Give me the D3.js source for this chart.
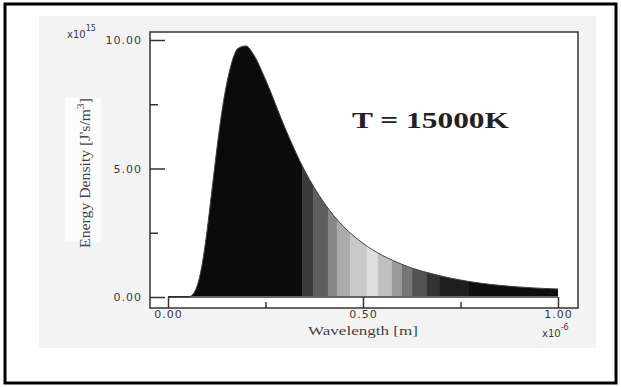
<!DOCTYPE html>
<html>
<head>
<meta charset="utf-8">
<style>
body { margin: 0; background: #fff; }
svg { display: block; }
.tick text { font-family: "DejaVu Sans", Verdana, sans-serif; font-size: 11px; fill: #3a3a3a; letter-spacing: 1px; }
.tick line { stroke: #333; stroke-width: 1.5; }
</style>
</head>
<body>
<svg id="chart" width="621" height="387"></svg>
<script src="https://cdn.jsdelivr.net/npm/d3@7/dist/d3.min.js"></script>
<script>
// values (wavelength in 1e-6 m, energy in 1e15)
var wavelengths = [0, 0.05, 0.06, 0.07, 0.08, 0.09, 0.10, 0.11, 0.12, 0.13, 0.14, 0.15, 0.16, 0.18, 0.20, 0.22, 0.25, 0.30, 0.35, 0.40, 0.45, 0.50, 0.60, 0.70, 0.80, 0.90, 1.00];
var energies    = [0, 0, 0.05, 0.25, 0.71, 1.49, 2.56, 3.82, 5.10, 6.32, 7.39, 8.26, 8.93, 9.68, 9.77, 9.42, 8.46, 6.58, 4.93, 3.67, 2.74, 2.09, 1.27, 0.82, 0.54, 0.39, 0.31];

// grey bands under the curve (start wavelength, grey)
var bandStarts = [0, 0.344, 0.372, 0.41, 0.433, 0.467, 0.51, 0.538, 0.574, 0.60, 0.626, 0.664, 0.697, 0.77];
var bandGreys  = ["#0b0b0b", "#3a3a3a", "#5e5e5e", "#868686", "#acacac", "#c9c9c9", "#dedede", "#c0c0c0", "#9a9a9a", "#767676", "#525252", "#333333", "#1e1e1e", "#0e0e0e"];

var xMajor = [0, 0.5, 1];
var xMinor = [0.25, 0.75];
var yMajor = [0, 5, 10];
var yMinor = [2.5, 7.5];

var svg = d3.select("#chart");

var x = d3.scaleLinear().domain([0, 1]).range([168, 558]);
var y = d3.scaleLinear().domain([0, 10]).range([297, 40]);

// outer border and grey panel
svg.append("rect").attr("x", 5).attr("y", 4).attr("width", 611).attr("height", 379)
	.attr("fill", "#fff").attr("stroke", "#000").attr("stroke-width", 3);
svg.append("rect").attr("x", 39).attr("y", 16).attr("width", 557).attr("height", 332)
	.attr("fill", "#f3f3f3");
svg.append("rect").attr("x", 65).attr("y", 98).attr("width", 36).attr("height", 144)
	.attr("fill", "#fcfcfc");

// plot frame
svg.append("rect").attr("x", 150).attr("y", 32).attr("width", 428).attr("height", 276)
	.attr("fill", "#fff").attr("stroke", "#333").attr("stroke-width", 1.5);

var data = wavelengths.map(function(w, i) { return {w: w, e: energies[i]}; });

var area = d3.area()
	.x(function(d) { return x(d.w); })
	.y0(y(0) - 1)
	.y1(function(d) { return y(d.e); })
	.curve(d3.curveMonotoneX);

svg.append("clipPath").attr("id", "under")
	.append("path").attr("d", area(data));

var bands = bandStarts.map(function(s, i) {
	return {start: s, end: i + 1 < bandStarts.length ? bandStarts[i + 1] : 1, grey: bandGreys[i]};
});

svg.append("g").attr("clip-path", "url(#under)")
	.selectAll("rect").data(bands).enter().append("rect")
	.attr("x", function(d) { return x(d.start); })
	.attr("width", function(d) { return x(d.end) - x(d.start) + 0.5; })
	.attr("y", y(10.2))
	.attr("height", y(0) - y(10.2))
	.attr("fill", function(d) { return d.grey; });

svg.append("path")
	.attr("d", d3.line().x(function(d) { return x(d.w); }).y(function(d) { return y(d.e); }).curve(d3.curveMonotoneX)(data))
	.attr("fill", "none").attr("stroke", "#444").attr("stroke-width", 1);

// x axis: zero line with end marks, ticks rising from the frame
svg.append("line").attr("x1", x(0)).attr("x2", x(1)).attr("y1", y(0)).attr("y2", y(0))
	.attr("stroke", "#333").attr("stroke-width", 1.5);

var xAxis = svg.append("g").attr("transform", "translate(0,308)")
	.call(d3.axisBottom(x).tickValues(xMajor).tickSize(-11).tickPadding(2).tickFormat(d3.format(".2f")));
xAxis.select(".domain").remove();

var xMinorAxis = svg.append("g").attr("transform", "translate(0,308)")
	.call(d3.axisBottom(x).tickValues(xMinor).tickSize(-6).tickFormat(""));
xMinorAxis.select(".domain").remove();

// y axis: ticks pointing into the plot
var yAxis = svg.append("g").attr("transform", "translate(150,0)")
	.call(d3.axisLeft(y).tickValues(yMajor).tickSize(-15).tickPadding(8).tickFormat(d3.format(".2f")));
yAxis.select(".domain").remove();

var yMinorAxis = svg.append("g").attr("transform", "translate(150,0)")
	.call(d3.axisLeft(y).tickValues(yMinor).tickSize(-8).tickFormat(""));
yMinorAxis.select(".domain").remove();

// texts
svg.append("text")
	.attr("x", 352).attr("y", 128)
	.attr("font-family", "'Liberation Serif', 'Times New Roman', serif")
	.attr("font-weight", "bold").attr("font-size", 23).attr("fill", "#222")
	.attr("textLength", 157).attr("lengthAdjust", "spacingAndGlyphs")
	.text("T = 15000K");

svg.append("text")
	.attr("x", 308).attr("y", 334.5)
	.attr("font-family", "'Liberation Serif', 'Times New Roman', serif")
	.attr("font-size", 13.5).attr("fill", "#444")
	.attr("textLength", 110).attr("lengthAdjust", "spacingAndGlyphs")
	.text("Wavelength [m]");

var yLab = svg.append("g").attr("transform", "translate(90,173) rotate(-90)")
	.append("text")
	.attr("text-anchor", "middle")
	.attr("font-family", "'Liberation Serif', 'Times New Roman', serif")
	.attr("font-size", 14).attr("fill", "#444");
yLab.append("tspan").text("Energy Density [J's/m");
yLab.append("tspan").attr("font-size", 10).attr("dy", -6).text("3");
yLab.append("tspan").attr("dy", 6).text("]");
var yw = yLab.node().getBBox().width;
yLab.attr("transform", "scale(" + (150 / yw) + ",1)");

function power(px, py, exp) {
	var t = svg.append("text")
		.attr("x", px).attr("y", py)
		.attr("font-family", "'DejaVu Sans', Verdana, sans-serif")
		.attr("font-size", 10).attr("fill", "#3a3a3a");
	t.append("tspan").text("x10");
	t.append("tspan").attr("font-size", 8).attr("dy", -7).text(exp);
}
power(67, 38, "15");
power(542, 337, "-6");
</script>
</body>
</html>
